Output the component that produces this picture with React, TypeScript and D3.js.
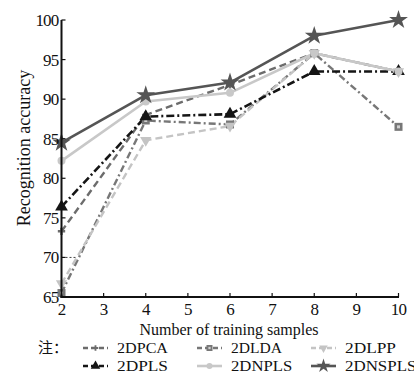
import React from "react";
import * as d3 from "d3";

const samples = [2, 4, 6, 8, 10];
const xTicks = [2, 3, 4, 5, 6, 7, 8, 9, 10];
const yTicks = [65, 70, 75, 80, 85, 90, 95, 100];

const pca = [73.3, 88.0, 91.8, 95.8, 93.5];
const lda = [65.5, 87.3, 86.8, 95.8, 86.5];
const lpp = [66.7, 84.8, 86.6, 95.8, 93.5];
const pls = [76.4, 87.8, 88.1, 93.5, 93.5];
const npls = [82.2, 89.7, 90.8, 95.8, 93.5];
const nspls = [84.5, 90.5, 92.1, 98.0, 100.0];

const seriesNames = ["2DPCA", "2DLDA", "2DLPP", "2DPLS", "2DNPLS", "2DNSPLS"];

type Style = { color: string; dash: string; marker: string; width: number; fill: string };
const styles: Record<string, Style> = {
  "2DPCA": { color: "#6c6c6c", dash: "7,4", marker: "plus", width: 2.4, fill: "#6c6c6c" },
  "2DLDA": { color: "#777777", dash: "7,3,2,3", marker: "square", width: 2.4, fill: "#777777" },
  "2DLPP": { color: "#c4c4c4", dash: "7,4", marker: "tridown", width: 2.4, fill: "#c4c4c4" },
  "2DPLS": { color: "#151515", dash: "8,3,2,3", marker: "triangle", width: 2.6, fill: "#151515" },
  "2DNPLS": { color: "#c8c8c8", dash: "", marker: "circle", width: 2.6, fill: "#c8c8c8" },
  "2DNSPLS": { color: "#555555", dash: "", marker: "star", width: 2.6, fill: "#555555" },
};
const dataMap: Record<string, number[]> = {
  "2DPCA": pca,
  "2DLDA": lda,
  "2DLPP": lpp,
  "2DPLS": pls,
  "2DNPLS": npls,
  "2DNSPLS": nspls,
};

const W = 414;
const H = 376;
const x = d3.scaleLinear().domain([2, 10]).range([61.5, 398.5]);
const y = d3.scaleLinear().domain([65, 100]).range([297, 20]);

function Marker({ kind, cx, cy, color, s = 1 }: { kind: string; cx: number; cy: number; color: string; s?: number }) {
  const tr = `translate(${cx},${cy}) scale(${s})`;
  if (kind === "star") {
    const p = d3.symbol().type(d3.symbolStar).size(110)();
    return <path d={p || ""} transform={tr} fill={color} />;
  }
  if (kind === "triangle") {
    const p = d3.symbol().type(d3.symbolTriangle).size(70)();
    return <path d={p || ""} transform={tr} fill={color} />;
  }
  if (kind === "tridown") {
    const p = d3.symbol().type(d3.symbolTriangle).size(55)();
    return <path d={p || ""} transform={`${tr} rotate(180)`} fill={color} />;
  }
  if (kind === "circle") {
    return <circle cx={cx} cy={cy} r={4 * s} fill={color} />;
  }
  if (kind === "square") {
    return (
      <g transform={tr}>
        <rect x={-4} y={-4} width={8} height={8} fill={color} />
        <rect x={-1.5} y={-1.5} width={3} height={3} fill="#d0d0d0" />
      </g>
    );
  }
  if (kind === "plus") {
    const p = d3.symbol().type(d3.symbolCross).size(30)();
    return <path d={p || ""} transform={tr} fill={color} />;
  }
  return null;
}

export default function App() {
  const line = d3
    .line<number>()
    .x((_, i) => x(samples[i]))
    .y((d) => y(d));

  const legendCols = [83, 197, 311];
  const legendRows = [348, 366];

  return (
    <svg
      width={W}
      height={H}
      style={{ position: "absolute", left: 0, top: 0, background: "#fff" }}
      fontFamily="'Liberation Serif', 'DejaVu Serif', serif"
    >
      <rect width={W} height={H} fill="#fff" />
      {seriesNames.map((name) => {
        const s = styles[name];
        return (
          <path
            key={name}
            d={line(dataMap[name]) || ""}
            fill="none"
            stroke={s.color}
            strokeWidth={s.width}
            strokeDasharray={s.dash || undefined}
            strokeLinejoin="round"
          />
        );
      })}
      {seriesNames.map((name) => {
        const s = styles[name];
        return (
          <g key={name + "m"}>
            {dataMap[name].map((v, i) => (
              <Marker key={i} kind={s.marker} cx={x(samples[i])} cy={y(v)} color={s.fill} />
            ))}
          </g>
        );
      })}
      <line x1={x(2)} x2={x(2)} y1={y(100)} y2={y(65) + 1} stroke="#111" strokeWidth={2} />
      <line x1={x(2) - 1} x2={x(10) + 0.5} y1={y(65)} y2={y(65)} stroke="#111" strokeWidth={2} />
      {yTicks.map((t) => (
        <g key={"y" + t}>
          <line x1={x(2)} x2={x(2) + 4} y1={y(t)} y2={y(t)} stroke="#111" strokeWidth={1.2} />
          <text x={x(2) - 3} y={y(t)} dy="0.35em" textAnchor="end" fontSize={17} fill="#111" letterSpacing={-0.8}>
            {t}
          </text>
        </g>
      ))}
      <line x1={x(2)} x2={x(2) + 14} y1={y(70)} y2={y(70)} stroke="#111" strokeWidth={0.8} strokeDasharray="2,2" />
      {xTicks.map((t) => (
        <g key={"x" + t}>
          <line x1={x(t)} x2={x(t)} y1={y(65)} y2={y(65) - 4} stroke="#111" strokeWidth={1.2} />
          <text x={x(t)} y={y(65) + 12} dy="0.35em" textAnchor="middle" fontSize={17} fill="#111" letterSpacing={-0.8}>
            {t}
          </text>
        </g>
      ))}
      <text x={229} y={329} dy="0.35em" textAnchor="middle" fontSize={16} fill="#111">
        Number of training samples
      </text>
      <text
        transform={`translate(24,148) rotate(-90)`}
        dy="0.35em"
        textAnchor="middle"
        fontSize={18}
        fill="#111"
      >
        Recognition accuracy
      </text>
      <text x={38} y={legendRows[0]} dy="0.35em" fontSize={15} fill="#111" fontFamily="'Noto Sans CJK SC', sans-serif">
        注：
      </text>
      {seriesNames.map((name, i) => {
        const s = styles[name];
        const lx = legendCols[i % 3];
        const ly = legendRows[Math.floor(i / 3)];
        return (
          <g key={"lg" + name}>
            <line
              x1={lx}
              x2={lx + 25}
              y1={ly}
              y2={ly}
              stroke={s.color}
              strokeWidth={s.width}
              strokeDasharray={s.dash ? "5,3" : undefined}
            />
            <Marker kind={s.marker} cx={lx + 12.5} cy={ly} color={s.fill} s={0.75} />
            <text x={lx + 34} y={ly} dy="0.35em" fontSize={15.5} fill="#111" textLength={name.length * 10.2} lengthAdjust="spacingAndGlyphs">
              {name}
            </text>
          </g>
        );
      })}
    </svg>
  );
}
